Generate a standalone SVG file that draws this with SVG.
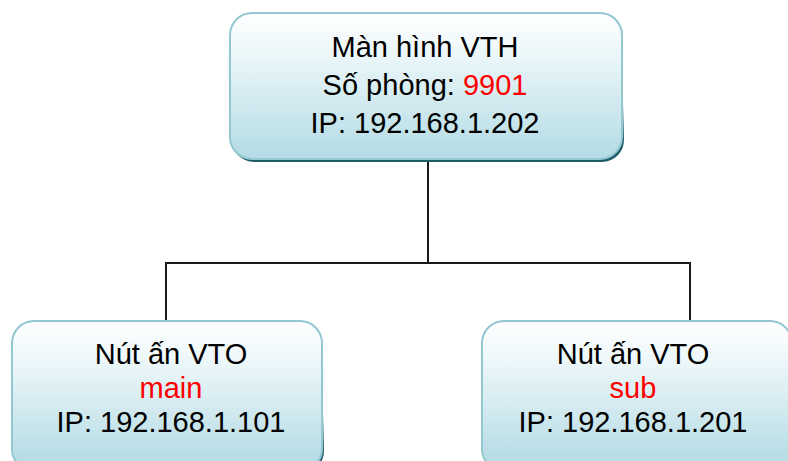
<svg xmlns="http://www.w3.org/2000/svg" width="788" height="461" viewBox="0 0 788 461">
  <defs>
    <linearGradient id="fillTop" x1="0" y1="0" x2="0" y2="1">
      <stop offset="0" stop-color="#ffffff"/>
      <stop offset="0.25" stop-color="#eef8fa"/>
      <stop offset="1" stop-color="#b3dbe5"/>
    </linearGradient>
    <linearGradient id="fillBot" x1="0" y1="0" x2="0" y2="1">
      <stop offset="0" stop-color="#ffffff"/>
      <stop offset="0.25" stop-color="#eef8fa"/>
      <stop offset="1" stop-color="#b0d9e3"/>
    </linearGradient>
    <linearGradient id="shadow" x1="0" y1="0" x2="0" y2="1">
      <stop offset="0" stop-color="#1f5d6b" stop-opacity="0"/>
      <stop offset="0.6" stop-color="#1f5d6b" stop-opacity="0"/>
      <stop offset="0.85" stop-color="#1f5d6b" stop-opacity="1"/>
      <stop offset="1" stop-color="#1f5d6b" stop-opacity="1"/>
    </linearGradient>
  </defs>
  <style>
    .box { stroke: #93c7d1; stroke-width: 2; }
    .t { font-family: "Liberation Sans", Arial, sans-serif; font-size: 29px; fill: #000000; text-anchor: middle; }
    .red { fill: #ff0000; }
    .conn { stroke: #1a1a1a; stroke-width: 2; fill: none; }
  </style>
  <rect width="788" height="461" fill="#ffffff"/>

  <g id="connectors">
    <line class="conn" x1="428" y1="160" x2="428" y2="263"/>
    <polyline class="conn" points="166,321 166,263 690,263 690,321"/>
  </g>

  <g id="node-vth">
    <rect x="232" y="16" width="392" height="146" rx="22" fill="url(#shadow)"/>
    <rect class="box" x="230" y="13" width="392" height="146" rx="22" fill="url(#fillTop)"/>
    <text class="t" x="425" y="57">Màn hình VTH</text>
    <text class="t" x="425" y="95">Số phòng: <tspan class="red">9901</tspan></text>
    <text class="t" x="425" y="133">IP: 192.168.1.202</text>
  </g>

  <g id="node-vto-main">
    <rect x="14" y="323" width="310" height="150" rx="22" fill="url(#shadow)"/>
    <rect class="box" x="12" y="321" width="310" height="150" rx="22" fill="url(#fillBot)"/>
    <text class="t" x="171" y="364">Nút ấn VTO</text>
    <text class="t red" x="171" y="398">main</text>
    <text class="t" x="171" y="432">IP: 192.168.1.101</text>
  </g>

  <g id="node-vto-sub">
    <rect x="484" y="323" width="310" height="150" rx="22" fill="url(#shadow)"/>
    <rect class="box" x="482" y="321" width="310" height="150" rx="22" fill="url(#fillBot)"/>
    <text class="t" x="633" y="364">Nút ấn VTO</text>
    <text class="t red" x="633" y="398">sub</text>
    <text class="t" x="633" y="432">IP: 192.168.1.201</text>
  </g>
</svg>
